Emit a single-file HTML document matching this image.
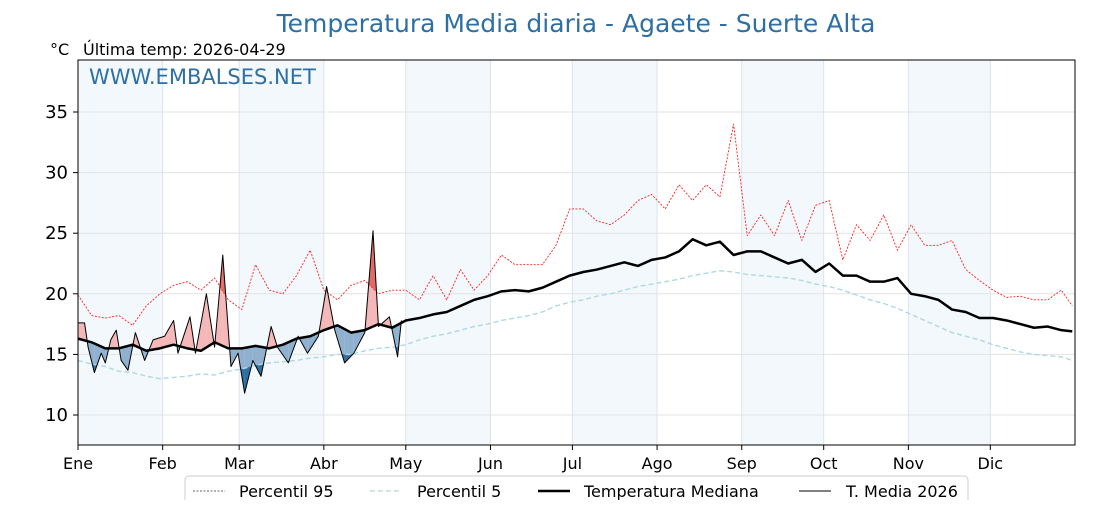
<!DOCTYPE html>
<html><head><meta charset="utf-8">
<style>
body{margin:0;background:#fff;width:1120px;height:500px;overflow:hidden;font-family:"Liberation Sans","DejaVu Sans",sans-serif;}
svg text{font-family:"DejaVu Sans","Liberation Sans",sans-serif;}
</style></head>
<body>
<svg id="chart" width="1120" height="500" xmlns="http://www.w3.org/2000/svg">
<text x="576" y="32" text-anchor="middle" font-size="25" fill="#2e6fa4">Temperatura Media diaria - Agaete - Suerte Alta</text>
<text x="50" y="55" font-size="16" fill="#000">°C</text>
<text x="83" y="55" font-size="16" fill="#000">Última temp: 2026-04-29</text>
<g id="plot"></g>
<text x="89" y="84" font-size="21" fill="#2e6fa4">WWW.EMBALSES.NET</text>
<g id="legend">
<rect x="185" y="476" width="783" height="40" rx="4" fill="#fff" stroke="#ccc"/>
<line x1="193" y1="491" x2="225" y2="491" stroke="#333" stroke-width="0.8" stroke-dasharray="2,1.5"/>
<text x="239" y="497" font-size="16">Percentil 95</text>
<line x1="370" y1="491" x2="402" y2="491" stroke="#add8e6" stroke-width="1.3" stroke-dasharray="5,3"/>
<text x="417" y="497" font-size="16">Percentil 5</text>
<line x1="538" y1="491" x2="570" y2="491" stroke="#000" stroke-width="2.5"/>
<text x="584" y="497" font-size="16">Temperatura Mediana</text>
<line x1="799" y1="491" x2="831" y2="491" stroke="#000" stroke-width="1"/>
<text x="846" y="497" font-size="16">T. Media 2026</text>
</g>
</svg>
<script>
const months=["Ene","Feb","Mar","Abr","May","Jun","Jul","Ago","Sep","Oct","Nov","Dic"];
const monthStartDays=[0,31,59,90,120,151,181,212,243,273,304,334];
const yTicks=[10,15,20,25,30,35];
const stepDays=[0,5,10,15,20,25,30,35,40,45,50,55,60,65,70,75,80,85,90,95,100,105,110,115,120,125,130,135,140,145,150,155,160,165,170,175,180,185,190,195,200,205,210,215,220,225,230,235,240,245,250,255,260,265,270,275,280,285,290,295,300,305,310,315,320,325,330,335,340,345,350,355,360,364];
const p95=[19.9,18.2,18,18.2,17.4,19,20,20.7,21,20.3,21.3,19.5,18.7,22.4,20.3,20,21.5,23.6,20.3,19.5,20.7,21.1,20,20.3,20.3,19.5,21.5,19.5,22,20.3,21.5,23.2,22.4,22.4,22.4,24,27,27,26,25.7,26.5,27.7,28.2,27,29,27.7,29,28,34,24.8,26.5,24.8,27.7,24.4,27.3,27.7,22.8,25.7,24.4,26.5,23.6,25.7,24,24,24.4,22,21.1,20.3,19.7,19.8,19.5,19.5,20.3,19];
const p5=[14.5,14.2,14,13.6,13.5,13.2,13,13.1,13.2,13.4,13.3,13.6,13.8,14.1,14.3,14.4,14.5,14.7,14.8,15,15,15.3,15.5,15.6,15.8,16.2,16.5,16.7,17,17.3,17.5,17.8,18,18.2,18.5,19,19.3,19.5,19.8,20,20.3,20.6,20.8,21,21.2,21.5,21.7,21.9,21.8,21.6,21.5,21.4,21.3,21.1,20.8,20.6,20.3,19.9,19.5,19.2,18.8,18.3,17.8,17.3,16.8,16.5,16.2,15.8,15.5,15.2,15,14.9,14.8,14.5];
const median=[16.3,16,15.5,15.5,15.8,15.3,15.5,15.8,15.5,15.3,16,15.5,15.5,15.7,15.5,15.8,16.3,16.5,17,17.4,16.8,17,17.5,17.2,17.8,18,18.3,18.5,19,19.5,19.8,20.2,20.3,20.2,20.5,21,21.5,21.8,22,22.3,22.6,22.3,22.8,23,23.5,24.5,24,24.3,23.2,23.5,23.5,23,22.5,22.8,21.8,22.5,21.5,21.5,21,21,21.3,20,19.8,19.5,18.7,18.5,18,18,17.8,17.5,17.2,17.3,17,16.9];
const obsDays=[0,2.4,3.7,6,8.5,10,12,14,15.8,18.3,21,24.4,27.5,31.7,35,36.6,41,43,47,50,53,56,58.6,61,64,67,70.7,73,77,80.6,84,88,91,94,97.6,101,105,108,110,114,117,118.4];
const obs2026=[17.6,17.6,15.6,13.5,15.1,14.3,16.2,17,14.5,13.7,16.8,14.5,16.2,16.5,17.8,15.1,18.1,15.1,20,15.6,23.2,14,15.1,11.8,14.5,13.2,17.3,15.6,14.3,16.5,15.1,16.5,20.6,17,14.3,15.1,16.8,25.2,17.3,18.1,14.8,17.8];

const X0=78,X1=1075,Y0=60,Y1=445;
const xs=d=>X0+d*(X1-X0)/365;
const ys=v=>415-(v-10)*12.12;
const NS="http://www.w3.org/2000/svg";
const plot=document.getElementById('plot');
function mk(tag,attrs,parent){const e=document.createElementNS(NS,tag);for(const k in attrs)e.setAttribute(k,attrs[k]);(parent||plot).appendChild(e);return e;}
function interp(dArr,vArr,d){if(d<=dArr[0])return vArr[0];for(let i=1;i<dArr.length;i++){if(d<=dArr[i]){const t=(d-dArr[i-1])/(dArr[i]-dArr[i-1]);return vArr[i-1]+t*(vArr[i]-vArr[i-1]);}}return vArr[vArr.length-1];}

for(let i=0;i<12;i+=2){
  const r=mk('rect',{x:xs(monthStartDays[i]),y:Y0,width:xs(monthStartDays[i+1])-xs(monthStartDays[i]),height:Y1-Y0,fill:'#f3f8fc'});
  
  
}
yTicks.forEach(v=>{
  const l=mk('line',{x1:X0,x2:X1,y1:ys(v),y2:ys(v),stroke:'#e3e3e3','stroke-width':1});
  
  
  const t=mk('text',{x:68,y:ys(v)+6,'text-anchor':'end','font-size':18});
  t.textContent=v;
  
  
});
monthStartDays.forEach((d,i)=>{
  const l=mk('line',{x1:xs(d),x2:xs(d),y1:Y0,y2:Y1,stroke:'#dde3ea','stroke-width':1});
  
  
  const tk=mk('line',{x1:xs(d),x2:xs(d),y1:Y1,y2:Y1+5,stroke:'#000'});
  
  
  const t=mk('text',{x:xs(d),y:469,'text-anchor':'middle','font-size':16});
  t.textContent=months[i];
  
  
});
yTicks.forEach(v=>{const tk=mk('line',{x1:X0-5,x2:X0,y1:ys(v),y2:ys(v),stroke:'#000'});
  
  });

function fillBetween(refD,refV,sign,color,name){
  for(let i=1;i<obsDays.length;i++){
    const d0=obsDays[i-1],d1=obsDays[i];
    const a0=obs2026[i-1]-interp(refD,refV,d0),a1=obs2026[i]-interp(refD,refV,d1);
    if((sign>0&&a0<=0&&a1<=0)||(sign<0&&a0>=0&&a1>=0))continue;
    let pts=[];
    const N=6;
    for(let k=0;k<=N;k++){
      const d=d0+(d1-d0)*k/N;
      const o=obs2026[i-1]+(obs2026[i]-obs2026[i-1])*k/N;
      const r=interp(refD,refV,d);
      const top=sign>0?Math.max(o,r):Math.min(o,r);
      pts.push([xs(d),ys(top),ys(r)]);
    }
    const poly=pts.map(p=>p[0]+','+p[1]).concat(pts.slice().reverse().map(p=>p[0]+','+p[2])).join(' ');
    const pg=mk('polygon',{points:poly,fill:color,stroke:'none'});
    
    
  }
}
fillBetween(stepDays,median,1,'#f4b8b8','above-median-fill');
fillBetween(stepDays,median,-1,'#8fb1cf','below-median-fill');
fillBetween(stepDays,p95,1,'#e06b6b','above-p95-fill');
fillBetween(stepDays,p5,-1,'#2e6ea3','below-p5-fill');

function line(dArr,vArr,attrs,name){
  const p=mk('polyline',Object.assign({points:dArr.map((d,i)=>xs(d)+','+ys(vArr[i])).join(' '),fill:'none','stroke-linejoin':'round'},attrs));
  
  
}
line(stepDays,p95,{stroke:'#ff2020','stroke-width':0.9,'stroke-dasharray':'2,1.5'},'percentile-95-line');
line(stepDays,p5,{stroke:'#add8e6','stroke-width':1.4,'stroke-dasharray':'5,3'},'percentile-5-line');
line(stepDays,median,{stroke:'#000','stroke-width':2.5},'median-line');
line(obsDays,obs2026,{stroke:'#000','stroke-width':1},'temp-2026-line');

const fr=mk('rect',{x:X0,y:Y0,width:X1-X0,height:Y1-Y0,fill:'none',stroke:'#000','stroke-width':1});


</script>
</body></html>
